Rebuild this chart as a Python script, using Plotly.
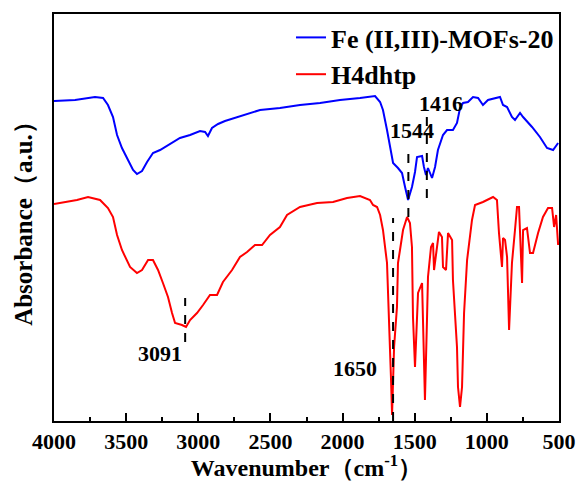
import plotly.graph_objects as go

# Fe (II,III)-MOFs-20 spectrum
fe_wn = [4000, 3854, 3716, 3660, 3626, 3591, 3563, 3529, 3487, 3452, 3425, 3390, 3355, 3314,
         3265, 3196, 3127, 3057, 2988, 2953, 2933, 2905, 2863, 2815, 2711, 2572, 2434, 2295,
         2156, 2018, 1879, 1775, 1740, 1720, 1692, 1671, 1650, 1616, 1588, 1567, 1546, 1519,
         1498, 1484, 1449, 1436, 1422, 1408, 1380, 1359, 1339, 1304, 1276, 1235, 1207, 1186,
         1165, 1131, 1096, 1061, 1027, 992, 909, 888, 860, 826, 805, 770, 749, 687, 632, 583,
         541, 506]
fe_abs = [3.20, 3.21, 3.24, 3.23, 3.16, 3.04, 2.86, 2.73, 2.61, 2.51, 2.47, 2.50, 2.59, 2.68,
          2.71, 2.77, 2.83, 2.86, 2.90, 2.89, 2.85, 2.93, 2.97, 3.00, 3.05, 3.11, 3.13, 3.16,
          3.18, 3.21, 3.23, 3.25, 3.19, 3.11, 2.91, 2.74, 2.58, 2.53, 2.48, 2.34, 2.21, 2.34,
          2.49, 2.64, 2.65, 2.54, 2.46, 2.53, 2.43, 2.54, 2.71, 2.86, 2.91, 2.91, 2.98, 3.13,
          3.18, 3.19, 3.24, 3.23, 3.16, 3.21, 3.24, 3.16, 3.14, 3.04, 3.01, 3.08, 3.04, 2.94,
          2.84, 2.73, 2.71, 2.78]

# H4dhtp spectrum
h4_wn = [4000, 3910, 3841, 3764, 3681, 3626, 3591, 3563, 3529, 3473, 3425, 3390, 3348, 3314,
         3279, 3245, 3210, 3182, 3161, 3113, 3085, 3057, 3009, 2967, 2919, 2870, 2829, 2766,
         2711, 2662, 2607, 2558, 2503, 2434, 2385, 2295, 2177, 2066, 1969, 1879, 1810, 1789,
         1761, 1740, 1720, 1692, 1678, 1671, 1664, 1657, 1643, 1623, 1616, 1602, 1581, 1553,
         1533, 1519, 1512, 1498, 1484, 1477, 1449, 1442, 1429, 1415, 1408, 1387, 1373, 1366,
         1345, 1332, 1311, 1304, 1283, 1269, 1241, 1235, 1207, 1200, 1186, 1172, 1158, 1137,
         1103, 1082, 1027, 957, 930, 916, 895, 888, 874, 860, 846, 826, 805, 791, 777, 756,
         749, 722, 701, 680, 645, 611, 576, 548, 534, 520, 506]
h4_abs = [2.17, 2.19, 2.21, 2.24, 2.21, 2.13, 2.04, 1.86, 1.71, 1.54, 1.48, 1.51, 1.61, 1.61,
          1.51, 1.38, 1.24, 1.08, 0.98, 0.96, 0.94, 1.01, 1.08, 1.16, 1.26, 1.26, 1.39, 1.51,
          1.64, 1.69, 1.76, 1.76, 1.86, 1.94, 2.06, 2.14, 2.18, 2.19, 2.23, 2.25, 2.21, 2.16,
          2.14, 2.06, 1.91, 1.58, 1.08, 0.78, 0.41, 0.06, 0.74, 1.14, 1.58, 1.71, 1.91, 2.04,
          1.98, 1.74, 1.04, 0.54, 1.04, 1.28, 1.38, 1.01, 0.21, 1.01, 1.44, 1.74, 1.78, 1.51,
          1.74, 1.89, 1.84, 1.54, 1.51, 1.88, 1.81, 1.41, 0.74, 0.34, 0.14, 0.34, 1.08, 1.61,
          2.01, 2.16, 2.19, 2.24, 2.21, 1.88, 1.54, 1.83, 1.81, 1.64, 0.91, 1.58, 1.91, 2.14,
          2.14, 1.38, 1.91, 1.93, 1.68, 1.68, 1.88, 2.04, 2.13, 2.13, 1.94, 2.06, 1.76]

# peak annotations: label, peak wavenumber, dashed line y-range, label position
peak_labels = ["3091", "1650", "1544", "1416"]
peak_wn = [3091, 1650, 1544, 1416]
peak_y0 = [0.79, 0.0, 2.04, 2.23]
peak_y1 = [1.23, 2.03, 2.71, 3.09]
label_wn = [3265, 1914, 1519, 1318]
label_y = [0.68, 0.53, 2.91, 3.18]

x_ticks = [4000, 3500, 3000, 2500, 2000, 1500, 1000, 500]

serif = "Liberation Serif, Times New Roman, serif"

fig = go.Figure()
fig.add_trace(go.Scatter(x=fe_wn, y=fe_abs, mode="lines", name="<b>Fe (II,III)-MOFs-20</b>",
                         line=dict(color="#0000FF", width=2)))
fig.add_trace(go.Scatter(x=h4_wn, y=h4_abs, mode="lines", name="<b>H4dhtp</b>",
                         line=dict(color="#FF0000", width=2)))

for wn, y0, y1 in zip(peak_wn, peak_y0, peak_y1):
    fig.add_shape(type="line", x0=wn, x1=wn, y0=y0, y1=y1, xref="x", yref="y",
                  line=dict(color="black", width=2, dash="dash"))

for lab, lx, ly in zip(peak_labels, label_wn, label_y):
    fig.add_annotation(x=lx, y=ly, text="<b>%s</b>" % lab, showarrow=False,
                       font=dict(family=serif, size=22, color="black"))

fig.update_layout(
    width=579, height=481,
    margin=dict(l=54, r=20, t=14, b=60),
    plot_bgcolor="white", paper_bgcolor="white",
    showlegend=True,
    legend=dict(x=1.0, y=1.0, xanchor="right", yanchor="top",
                font=dict(family=serif, size=26, color="black"),
                bgcolor="rgba(0,0,0,0)", tracegroupgap=0, itemwidth=30),
    xaxis=dict(range=[4000, 500], tickvals=x_ticks, ticktext=["<b>%d</b>" % t for t in x_ticks],
               ticks="inside", ticklen=8, tickwidth=1.5, tickcolor="black",
               minor=dict(dtick=250, ticks="inside", ticklen=4, tickwidth=1.5, tickcolor="black"),
               showline=True, linecolor="black", linewidth=2, mirror=True,
               showgrid=False, zeroline=False, automargin=False,
               tickfont=dict(family=serif, size=22, color="black"),
               title=dict(text="<b>Wavenumber（cm<sup>-1</sup>）</b>",
                          font=dict(family=serif, size=24, color="black"), standoff=9)),
    yaxis=dict(range=[0, 4.07], showticklabels=False, ticks="",
               showline=True, linecolor="black", linewidth=2, mirror=True,
               showgrid=False, zeroline=False, automargin=False,
               title=dict(text="<b>Absorbance（a.u.）</b>",
                          font=dict(family=serif, size=25, color="black"), standoff=12)),
)

fig.write_html("out.html")
